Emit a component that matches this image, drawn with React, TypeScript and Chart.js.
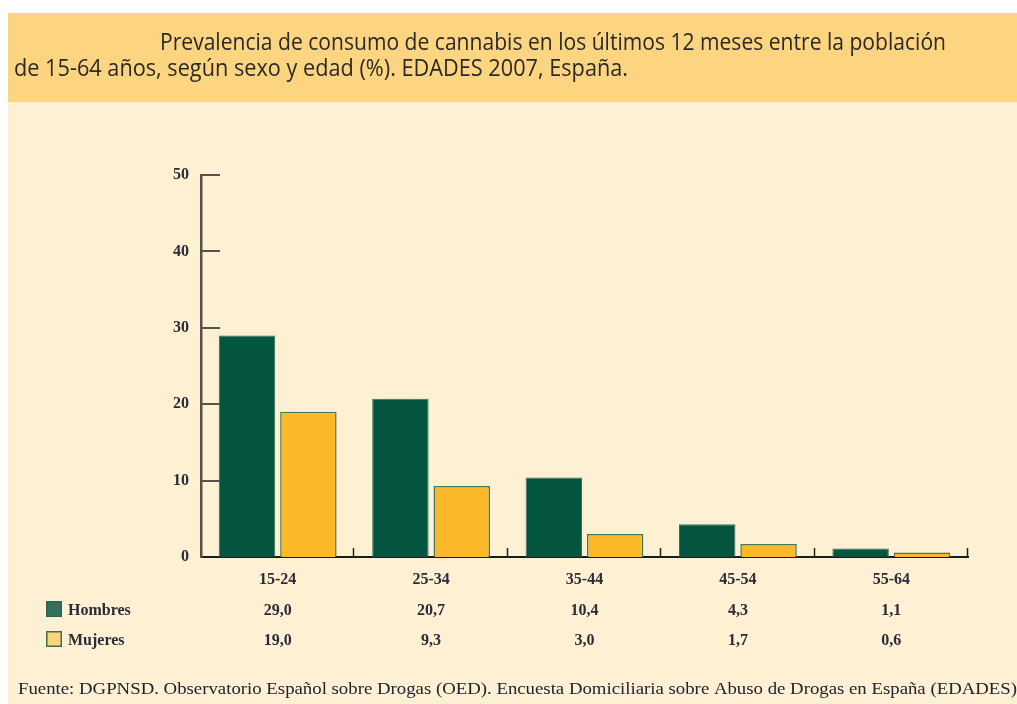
import React, { useEffect, useRef } from "react";
import { Chart, registerables } from "chart.js";

Chart.register(...registerables);

const categories = ["15-24", "25-34", "35-44", "45-54", "55-64"];
const hombres = [29.0, 20.7, 10.4, 4.3, 1.1];
const mujeres = [19.0, 9.3, 3.0, 1.7, 0.6];
const seriesNames = ["Hombres", "Mujeres"];
const yTickValues = [0, 10, 20, 30, 40, 50];
const titleLine1 = "Prevalencia de consumo de cannabis en los últimos 12 meses entre la población";
const titleLine2 = "de 15-64 años, según sexo y edad (%). EDADES 2007, España.";
const footerText =
  "Fuente: DGPNSD. Observatorio Español sobre Drogas (OED). Encuesta Domiciliaria sobre Abuso de Drogas en España (EDADES)";

const W = 1017;
const H = 704;
const HEADER_BG = "#fdd47f";
const BODY_BG = "#fef0d3";
const GREEN = "#03553f";
const YELLOW = "#fbb829";
const TEXT = "#2c2c38";
const SERIF = "'Liberation Serif', 'DejaVu Serif', serif";

function fmt(v: number) {
  return v.toFixed(1).replace(".", ",");
}

function fitText(ctx: CanvasRenderingContext2D, text: string, x: number, y: number, width: number, font: string) {
  ctx.font = font;
  const m = ctx.measureText(text).width;
  ctx.save();
  ctx.translate(x, y);
  ctx.scale(width / m, 1);
  ctx.textAlign = "left";
  ctx.textBaseline = "alphabetic";
  ctx.fillText(text, 0, 0);
  ctx.restore();
}

const decorPlugin = {
  id: "decor",
  beforeDraw(chart: any) {
    const ctx: CanvasRenderingContext2D = chart.ctx;
    ctx.save();
    ctx.fillStyle = "#ffffff";
    ctx.fillRect(0, 0, W, H);
    ctx.fillStyle = BODY_BG;
    ctx.fillRect(8, 13, W - 8, H - 13);
    ctx.fillStyle = HEADER_BG;
    ctx.fillRect(8, 13, W - 8, 89);
    // title
    ctx.fillStyle = "#2a2a2a";
    fitText(ctx, titleLine1, 160, 50, 786, "23px 'Open Sans', sans-serif");
    fitText(ctx, titleLine2, 14, 76, 614, "23px 'Open Sans', sans-serif");
    // footer
    ctx.fillStyle = "#222230";
    fitText(ctx, footerText, 18, 694, 999, `17.5px ${SERIF}`);
    ctx.restore();
  },
  afterDraw(chart: any) {
    const ctx: CanvasRenderingContext2D = chart.ctx;
    const area = chart.chartArea;
    const y = chart.scales.y;
    const x = chart.scales.x;
    ctx.save();
    // inward y ticks
    ctx.strokeStyle = "#55524a";
    ctx.lineWidth = 2;
    yTickValues.forEach((v) => {
      if (v === 0) return;
      const py = Math.round(y.getPixelForValue(v));
      ctx.beginPath();
      ctx.moveTo(area.left, py);
      ctx.lineTo(area.left + 19, py);
      ctx.stroke();
    });
    // category boundary ticks on x axis
    ctx.strokeStyle = "#222";
    ctx.lineWidth = 1.5;
    const catW = (area.right - area.left) / categories.length;
    for (let i = 1; i <= categories.length; i++) {
      const px = Math.round(area.left + i * catW) - 0.5;
      ctx.beginPath();
      ctx.moveTo(px, area.bottom);
      ctx.lineTo(px, area.bottom - 9);
      ctx.stroke();
    }
    // data table
    const rows = [hombres, mujeres];
    const rowY = [611, 641];
    const boxFill = ["#34705a", "#fcd47a"];
    const boxStroke = ["#2c6650", "#3b6f55"];
    ctx.font = `bold 16px ${SERIF}`;
    ctx.textBaseline = "middle";
    rows.forEach((vals, r) => {
      ctx.fillStyle = boxFill[r];
      ctx.fillRect(46, rowY[r] - 10, 16, 16);
      ctx.strokeStyle = boxStroke[r];
      ctx.lineWidth = 1.5;
      ctx.strokeRect(46.75, rowY[r] - 9.25, 14.5, 14.5);
      ctx.fillStyle = TEXT;
      ctx.textAlign = "left";
      ctx.fillText(seriesNames[r], 68, rowY[r]);
      ctx.textAlign = "center";
      vals.forEach((v, i) => {
        ctx.fillText(fmt(v), x.getPixelForValue(i), rowY[r]);
      });
    });
    ctx.restore();
  },
};

export default function App() {
  const ref = useRef<HTMLCanvasElement | null>(null);
  useEffect(() => {
    if (!ref.current) return;
    const chart = new Chart(ref.current, {
      type: "bar",
      data: {
        labels: categories,
        datasets: [
          {
            label: seriesNames[0],
            data: hombres,
            backgroundColor: GREEN,
            borderColor: "#3a6e5a",
            borderWidth: 1,
            categoryPercentage: 0.8,
            barPercentage: 0.92,
          },
          {
            label: seriesNames[1],
            data: mujeres,
            backgroundColor: YELLOW,
            borderColor: "#3d7a5c",
            borderWidth: 1.5,
            categoryPercentage: 0.8,
            barPercentage: 0.92,
          },
        ],
      },
      options: {
        responsive: false,
        animation: false,
        devicePixelRatio: 1,
        layout: { padding: { left: 140, right: 49, top: 175, bottom: 107 } },
        plugins: { legend: { display: false }, tooltip: { enabled: false }, title: { display: false } },
        scales: {
          x: {
            grid: { display: false, drawTicks: false },
            border: { display: true, color: "#1a1a1a", width: 2 },
            ticks: { color: TEXT, font: { family: SERIF, size: 16, weight: "bold" }, padding: 13 },
            afterFit: (s: any) => {
              s.height = 40;
            },
          },
          y: {
            min: 0,
            max: 50,
            grid: { display: false, drawTicks: false },
            border: { display: true, color: "#55524a", width: 2.5 },
            ticks: { stepSize: 10, color: TEXT, font: { family: SERIF, size: 16, weight: "bold" }, padding: 12 },
            afterFit: (s: any) => {
              s.width = 61;
            },
          },
        },
      },
      plugins: [decorPlugin],
    } as any);
    return () => chart.destroy();
  }, []);
  return (
    <div style={{ position: "absolute", left: 0, top: 0, width: W, height: H }}>
      <canvas ref={ref} width={W} height={H} style={{ width: W, height: H, display: "block" }} />
    </div>
  );
}
